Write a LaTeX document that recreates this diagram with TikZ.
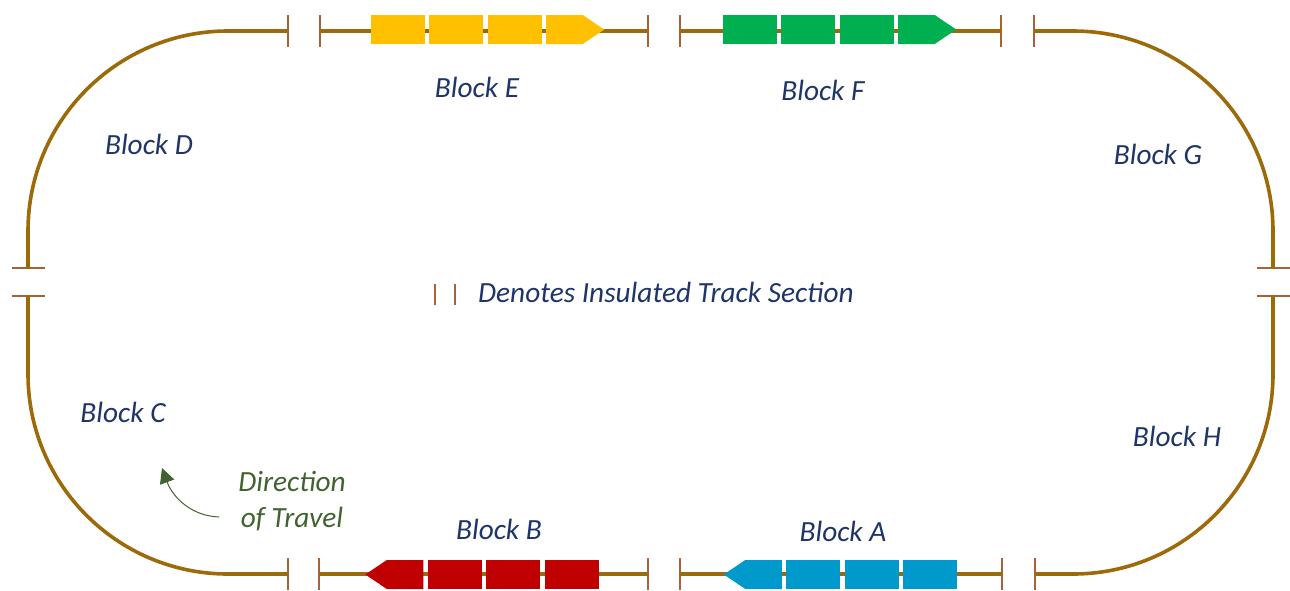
\documentclass[tikz,border=0pt]{standalone}
\usepackage{fontspec}
\setmainfont{Carlito}
\usetikzlibrary{shapes.symbols, arrows.meta, positioning}

\definecolor{railbrown}{HTML}{9C6A08}
\definecolor{tickbrown}{HTML}{A8623A}
\definecolor{labelblue}{HTML}{1F3468}
\definecolor{labelgreen}{HTML}{41632F}
\definecolor{caryellow}{HTML}{FFC000}
\definecolor{cargreen}{HTML}{00B050}
\definecolor{carred}{HTML}{C00000}
\definecolor{carblue}{HTML}{0099CC}

\begin{document}
\begin{tikzpicture}[
    x=1pt, y=-1pt,
    node distance=4pt,
    rail/.style={draw=railbrown, line width=3.6pt, rounded corners=200pt},
    vtick/.style={rectangle, fill=tickbrown, inner sep=0pt, minimum width=1.5pt, minimum height=32pt},
    htick/.style={rectangle, fill=tickbrown, inner sep=0pt, minimum width=33pt, minimum height=1.5pt},
    legendtick/.style={rectangle, fill=tickbrown, inner sep=0pt, minimum width=1.5pt, minimum height=21pt},
    car/.style={rectangle, inner sep=0pt, minimum width=54pt, minimum height=29pt},
    nose/.style={signal, signal from=nowhere, signal pointer angle=68, inner sep=0pt, minimum width=58pt, minimum height=29pt},
    blocklabel/.style={text=labelblue, font=\fontsize{29.3}{32}\selectfont\itshape},
    travellabel/.style={text=labelgreen, font=\fontsize{29.3}{36}\selectfont\itshape, align=center},
    travelarrow/.style={draw=labelgreen, line width=1pt, -{Triangle[length=15pt,width=15pt]}}
]
\useasboundingbox (0,0) rectangle (1290,590);

% Insulated joints
\node (topa) [vtick] at (288,31) {};
\node (topb) [vtick] at (320,31) {};
\node (topc) [vtick] at (648,31) {};
\node (topd) [vtick] at (680,31) {};
\node (tope) [vtick] at (1001,31) {};
\node (topf) [vtick] at (1034,31) {};
\node (bota) [vtick] at (288,574) {};
\node (botb) [vtick] at (319,574) {};
\node (botc) [vtick] at (648,574) {};
\node (botd) [vtick] at (680,574) {};
\node (bote) [vtick] at (1002,574) {};
\node (botf) [vtick] at (1035,574) {};
\node (lefta) [htick] at (28,268) {};
\node (leftb) [htick] at (28,296) {};
\node (righta) [htick] at (1273,268) {};
\node (rightb) [htick] at (1273,296) {};

% Track
\draw [rail] (topa.center) -| (lefta.center);
\draw [rail] (leftb.center) |- (bota.center);
\draw [rail] (topf.center) -| (righta.center);
\draw [rail] (rightb.center) |- (botf.center);
\draw [rail] (topb.center) -- (topc.center);
\draw [rail] (topd.center) -- (tope.center);
\draw [rail] (botb.center) -- (botc.center);
\draw [rail] (botd.center) -- (bote.center);

% Trains
\node (e1) [car, fill=caryellow] at (398,29.5) {};
\node (e2) [car, right=of e1, fill=caryellow] {};
\node (e3) [car, right=of e2, fill=caryellow] {};
\node (e4) [nose, signal to=east, right=of e3, fill=caryellow] {};

\node (f1) [car, fill=cargreen] at (750,29.5) {};
\node (f2) [car, right=of f1, fill=cargreen] {};
\node (f3) [car, right=of f2, fill=cargreen] {};
\node (f4) [nose, signal to=east, right=of f3, fill=cargreen] {};

\node (b1) [car, fill=carred] at (571.5,574.5) {};
\node (b2) [car, left=of b1, fill=carred] {};
\node (b3) [car, left=of b2, fill=carred] {};
\node (b4) [nose, signal to=west, left=of b3, fill=carred] {};

\node (a1) [car, fill=carblue] at (930,574.5) {};
\node (a2) [car, left=of a1, fill=carblue] {};
\node (a3) [car, left=of a2, fill=carblue] {};
\node (a4) [nose, signal to=west, left=of a3, fill=carblue] {};

% Labels
\node (blocke) [blocklabel] at (477,87) {Block E};
\node (blockf) [blocklabel] at (823,90) {Block F};
\node (blockd) [blocklabel] at (149,144) {Block D};
\node (blockg) [blocklabel] at (1158,154) {Block G};
\node (blockc) [blocklabel] at (123,412) {Block C};
\node (blockh) [blocklabel] at (1177,436) {Block H};
\node (blockb) [blocklabel] at (499,529) {Block B};
\node (blocka) [blocklabel] at (843,531) {Block A};

% Legend
\node (legenda) [legendtick] at (435,294.5) {};
\node (legendb) [legendtick] at (455,294.5) {};
\node (legendtext) [blocklabel, anchor=west, inner sep=0pt] at (478,292) {Denotes Insulated Track Section};

% Direction of travel
\node (travel) [travellabel] at (292,501.5) {Direction\\of Travel};
\coordinate (arrowstart) at (219,517);
\coordinate (arrowend) at (162,468);
\draw [travelarrow] (arrowstart) .. controls (192,516) and (173,498) .. (arrowend);

\end{tikzpicture}
\end{document}
